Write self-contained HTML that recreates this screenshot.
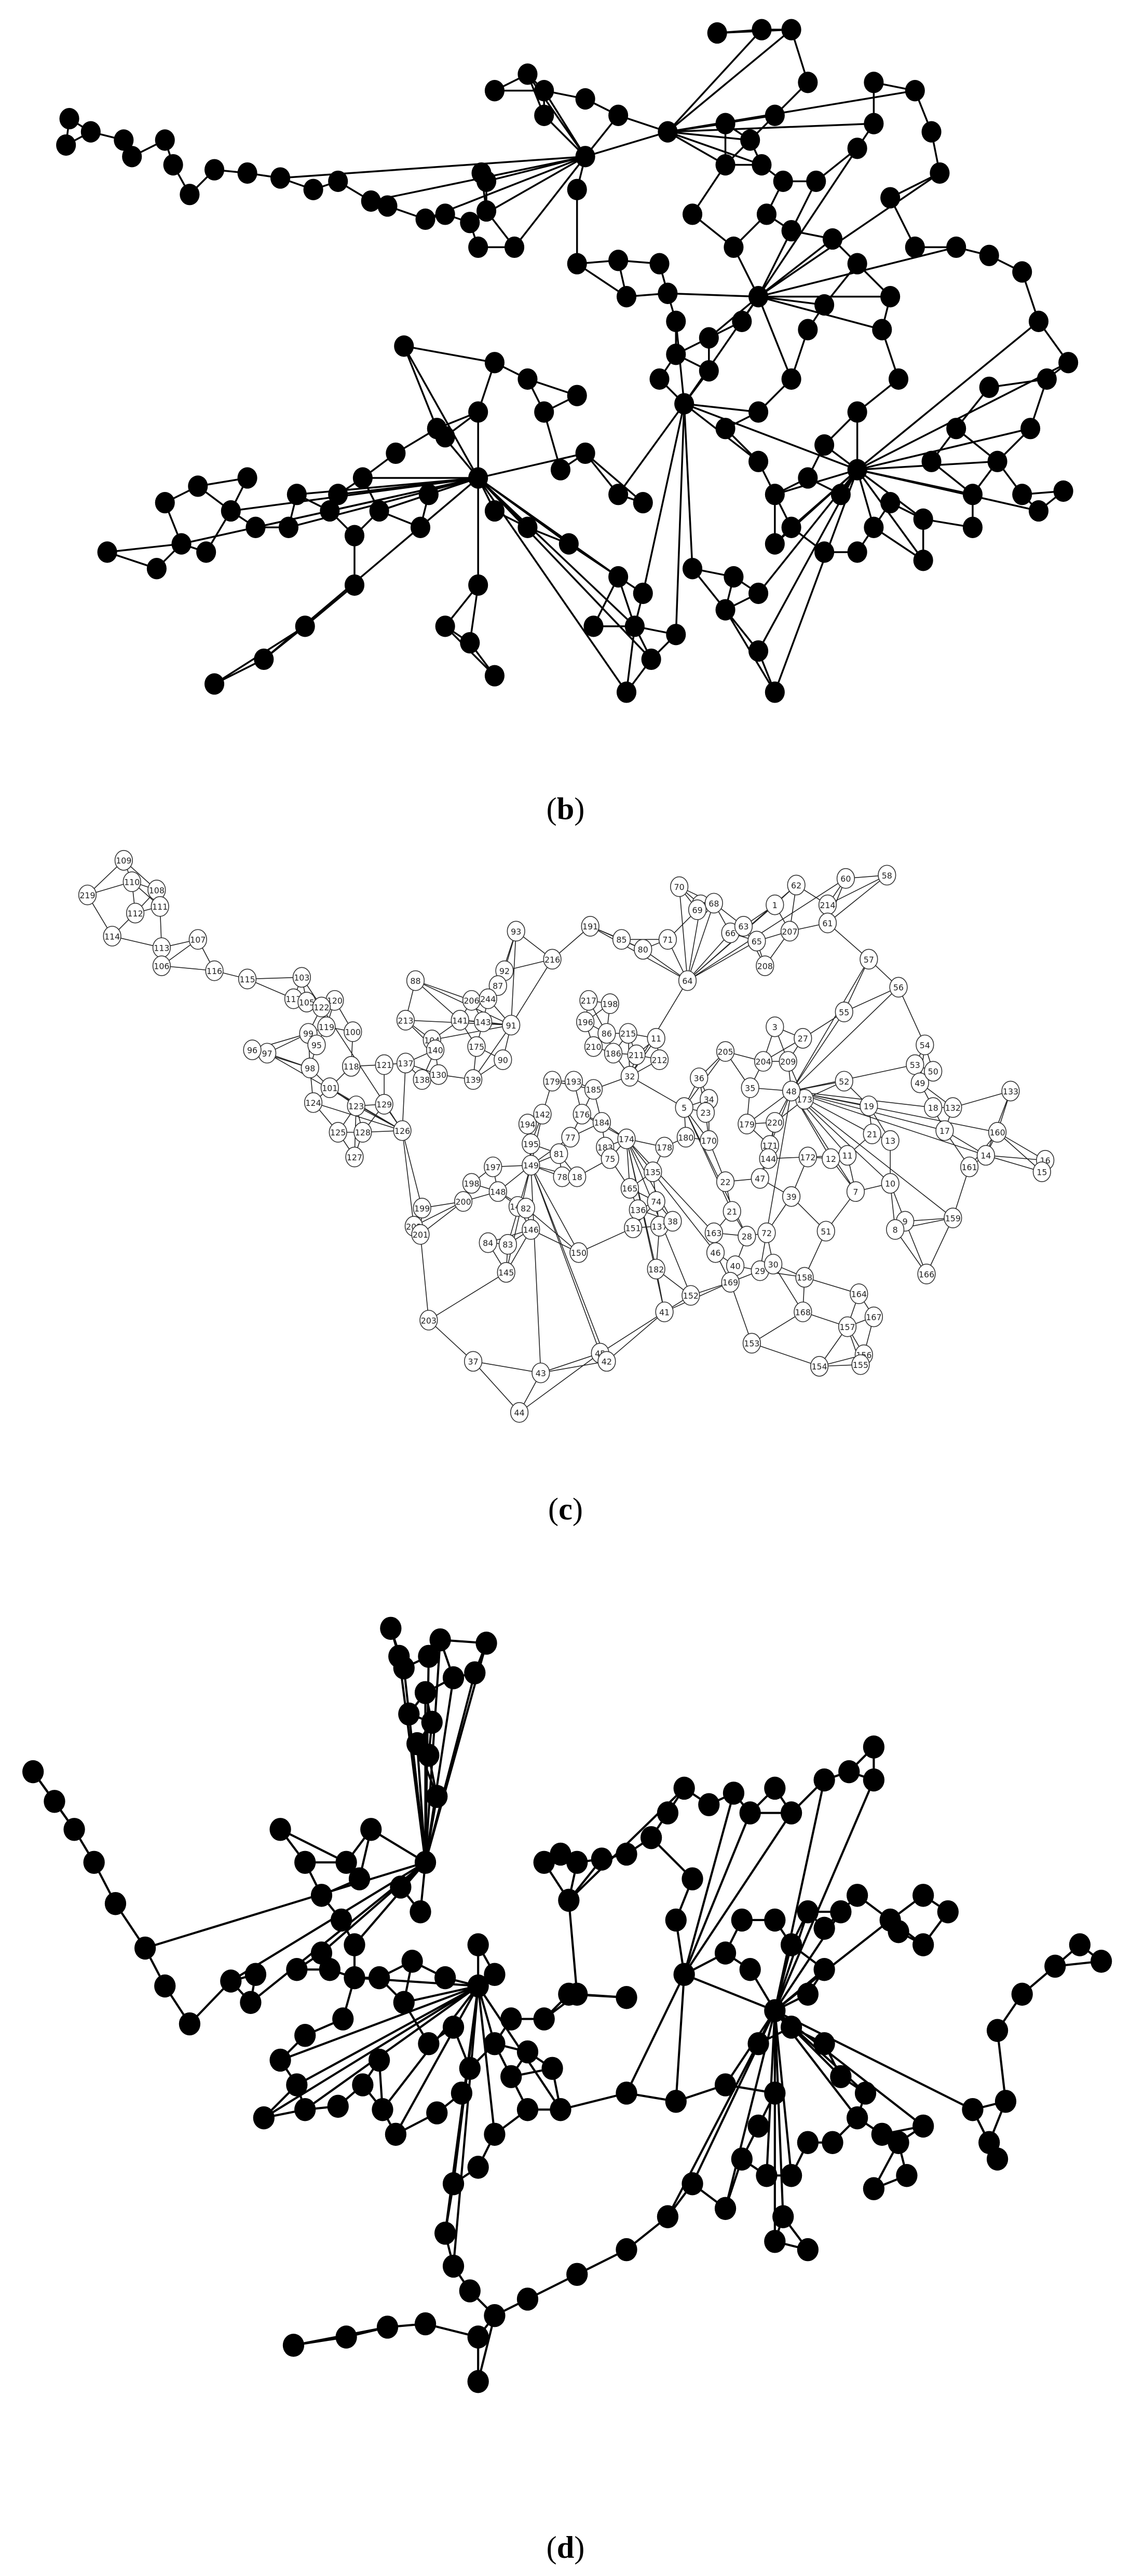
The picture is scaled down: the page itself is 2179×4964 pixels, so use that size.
<!DOCTYPE html>
<html><head><meta charset="utf-8"><style>
html,body{margin:0;padding:0;background:#fff;}
svg{display:block;}
</style></head><body>
<svg id="s" width="2179" height="4964" viewBox="0 0 686 1563" xmlns="http://www.w3.org/2000/svg">
<g id="gb" stroke="#000" stroke-width="1.1"></g>
<g id="gc" stroke="#222" stroke-width="0.5"></g>
<g id="gd" stroke="#000" stroke-width="1.3"></g>
<g id="nodes"></g>
<text x="343" y="497" font-family="Liberation Serif, serif" font-size="19" text-anchor="middle">(<tspan font-weight="bold">b</tspan>)</text>
<text x="343" y="922" font-family="Liberation Serif, serif" font-size="19" text-anchor="middle">(<tspan font-weight="bold">c</tspan>)</text>
<text x="343" y="1552" font-family="Liberation Serif, serif" font-size="19" text-anchor="middle">(<tspan font-weight="bold">d</tspan>)</text>
</svg>
<script>
var NS="http://www.w3.org/2000/svg";
function el(t,a,p){var e=document.createElementNS(NS,t);for(var k in a)e.setAttribute(k,a[k]);p.appendChild(e);return e;}
var seed=7;function rnd(){seed=(seed*9301+49297)%233280;return seed/233280;}
function build(P,hubs,g,k,hp,maxd){
 var E={};
 function add(i,j){if(i==j)return;var key=i<j?i+"_"+j:j+"_"+i;if(E[key])return;E[key]=1;el("line",{x1:P[i][0],y1:P[i][1],x2:P[j][0],y2:P[j][1]},g);}
 for(var i=0;i<P.length;i++){
  var d=[];for(var j=0;j<P.length;j++){if(j!=i)d.push([Math.hypot(P[i][0]-P[j][0],P[i][1]-P[j][1]),j]);}
  d.sort(function(a,b){return a[0]-b[0]});
  for(var m=0;m<k;m++)add(i,d[m][1]);
  if(rnd()<hp){var bh=null,bd=1e9;hubs.forEach(function(h){var dd=Math.hypot(P[i][0]-P[h][0],P[i][1]-P[h][1]);if(dd<bd&&dd>5){bd=dd;bh=h;}});if(bh!==null&&bd<maxd)add(i,bh);}
 }
}
var B=[[42,72],[40,88],[55,80],[75,85],[80,95],[100,85],[105,100],[115,118],[130,103],[150,105],[170,108],[190,115],[205,110],[225,122],[235,125],[258,133],[270,130],[285,135],[295,128],[290,150],[312,150],[295,110],[292,105],[300,55],[320,45],[330,55],[355,60],[355,95],[375,70],[405,80],[435,20],[462,18],[480,18],[490,50],[470,70],[455,85],[440,75],[440,100],[462,100],[475,110],[495,110],[520,90],[530,75],[530,50],[555,55],[565,80],[540,120],[570,105],[555,150],[580,150],[600,155],[620,165],[630,195],[648,220],[635,230],[625,260],[605,280],[590,300],[565,280],[580,260],[545,230],[520,285],[510,300],[540,305],[560,315],[620,300],[645,298],[630,310],[520,250],[500,270],[490,290],[470,300],[460,280],[440,260],[415,245],[400,230],[410,215],[380,180],[350,160],[375,158],[400,160],[405,178],[410,195],[430,205],[450,195],[460,180],[465,130],[480,140],[505,145],[520,160],[540,180],[500,185],[490,200],[480,230],[460,250],[430,225],[350,240],[330,250],[320,230],[300,220],[290,250],[270,265],[240,275],[220,290],[205,300],[180,300],[150,290],[120,295],[100,305],[65,335],[95,345],[125,335],[155,320],[175,320],[200,310],[230,310],[260,300],[290,290],[300,310],[320,320],[340,285],[355,275],[375,300],[390,305],[345,330],[375,350],[390,360],[420,345],[445,350],[470,330],[480,320],[460,360],[440,370],[410,385],[395,400],[380,420],[360,380],[385,380],[290,355],[270,380],[215,355],[185,380],[160,400],[130,415],[285,390],[300,410],[470,420],[460,395],[560,340],[500,335],[530,320],[245,210],[265,260],[330,70],[350,115],[420,130],[445,150],[535,200],[600,235],[255,320],[215,325],[140,310],[110,330],[520,335],[590,320]];
var hb=[];[[415,245],[460,180],[310,150],[355,95],[405,80],[520,285],[290,290]].forEach(function(h){for(var i=0;i<B.length;i++)if(B[i][0]==h[0]&&B[i][1]==h[1])hb.push(i);});
build(B,hb,document.getElementById("gb"),2,0.45,200);
var C=[["109",75,522],["110",80,535],["108",95,540],["111",97,550],["219",53,543],["112",82,554],["107",120,570],["114",68,568],["113",98,575],["106",98,586],["116",130,589],["115",150,594],["103",183,593],["117",178,606],["105",186,608],["120",203,607],["122",195,611],["99",187,627],["119",198,623],["100",214,626],["97",162,639],["96",153,637],["95",192,634],["98",188,648],["118",213,647],["121",233,646],["123",216,671],["101",200,660],["124",190,669],["125",205,687],["128",220,687],["127",215,702],["129",233,670],["126",244,686],["213",246,619],["88",252,595],["92",306,589],["93",313,565],["216",335,582],["87",302,598],["206",286,607],["244",296,606],["141",279,619],["143",293,620],["91",310,622],["104",262,631],["140",264,637],["137",246,645],["138",256,655],["130",266,652],["139",287,655],["175",289,635],["90",305,643],["191",358,562],["85",377,570],["80",390,576],["71",405,570],["70",412,538],["67",425,549],["69",423,552],["68",433,548],["66",443,566],["63",451,562],["1",470,549],["62",483,537],["60",513,533],["58",538,531],["214",502,549],["61",502,560],["207",479,565],["65",459,571],["208",464,586],["64",417,595],["57",527,582],["56",545,599],["55",512,614],["3",470,623],["27",487,630],["209",478,644],["204",463,644],["205",440,638],["36",424,654],["34",430,667],["35",455,660],["23",428,675],["5",415,672],["217",357,607],["198",370,609],["196",355,620],["215",381,627],["86",368,627],["210",360,635],["212",400,643],["11",398,630],["186",372,639],["211",386,640],["32",382,653],["193",348,656],["179",335,656],["185",360,661],["176",353,676],["184",365,681],["77",346,690],["183",367,696],["75",370,703],["174",380,691],["78",341,714],["18",350,714],["194",320,682],["142",329,676],["195",322,694],["81",339,700],["149",322,707],["197",299,708],["148",302,723],["198",286,718],["200",281,729],["199",256,733],["202",251,744],["201",255,749],["147",314,732],["82",319,733],["146",322,746],["84",296,754],["83",308,755],["145",307,772],["150",351,760],["165",382,721],["135",396,711],["178",403,696],["136",387,734],["74",398,729],["151",384,745],["137",400,744],["38",408,741],["22",440,717],["21",444,735],["182",398,770],["163",433,748],["46",434,760],["28",453,750],["72",465,748],["40",446,768],["169",443,778],["29",461,771],["30",469,767],["170",430,692],["180",416,690],["179",453,682],["220",470,681],["171",467,695],["173",488,667],["48",480,662],["52",512,656],["53",555,646],["49",558,657],["54",561,634],["50",566,650],["19",527,671],["18",566,672],["132",578,672],["133",613,662],["17",573,686],["13",540,692],["21",529,688],["11",514,701],["12",504,703],["172",490,702],["144",466,703],["47",461,715],["39",480,726],["7",519,723],["10",540,718],["9",549,741],["8",543,746],["51",501,747],["158",488,775],["164",521,785],["168",487,796],["167",530,799],["157",514,805],["166",562,773],["159",578,739],["161",588,708],["14",598,701],["160",605,687],["16",634,704],["15",632,711],["156",524,822],["155",522,828],["154",497,829],["153",456,815],["152",419,786],["41",403,796],["45",364,821],["42",368,826],["43",328,833],["37",287,826],["203",260,801],["44",315,857]];
var CP=C.map(function(c){return [c[1],c[2]]});
var hc=[];["64","32","5","48","91","149","174","126"].forEach(function(n){for(var i=0;i<C.length;i++)if(C[i][0]==n){hc.push(i);break;}});
build(CP,hc,document.getElementById("gc"),3,0.4,140);
var D=[[237,988],[242,1005],[267,995],[295,997],[245,1012],[260,1005],[275,1018],[288,1015],[258,1027],[248,1040],[262,1045],[253,1058],[20,1075],[33,1093],[45,1110],[57,1130],[70,1155],[88,1182],[100,1205],[115,1228],[140,1202],[155,1198],[152,1215],[170,1110],[185,1130],[195,1150],[210,1130],[225,1110],[218,1140],[207,1165],[195,1185],[180,1195],[200,1195],[215,1200],[230,1200],[245,1215],[208,1225],[185,1235],[170,1250],[180,1265],[160,1285],[185,1280],[205,1278],[220,1265],[232,1280],[240,1295],[265,1282],[280,1270],[285,1255],[300,1240],[310,1225],[290,1205],[275,1230],[260,1240],[255,1160],[258,1130],[243,1145],[250,1190],[270,1200],[290,1180],[300,1198],[310,1260],[320,1245],[330,1225],[345,1153],[330,1130],[350,1130],[365,1128],[380,1125],[395,1115],[405,1100],[415,1085],[420,1140],[410,1165],[430,1095],[445,1088],[455,1100],[470,1085],[480,1100],[500,1080],[515,1075],[530,1060],[530,1080],[415,1198],[380,1212],[350,1210],[335,1255],[320,1280],[300,1295],[290,1315],[275,1325],[270,1355],[275,1375],[285,1390],[290,1418],[290,1445],[340,1280],[380,1270],[410,1275],[440,1265],[460,1240],[470,1220],[455,1195],[440,1185],[450,1165],[470,1165],[480,1180],[490,1160],[500,1170],[510,1160],[520,1150],[540,1165],[560,1180],[545,1172],[575,1160],[560,1150],[500,1195],[490,1210],[480,1230],[500,1240],[510,1260],[525,1270],[520,1285],[535,1295],[545,1300],[505,1300],[470,1270],[460,1290],[450,1310],[465,1320],[480,1320],[490,1300],[475,1345],[490,1365],[470,1360],[440,1340],[420,1325],[405,1345],[380,1365],[350,1380],[320,1395],[300,1405],[258,1410],[235,1412],[210,1418],[178,1423],[560,1290],[590,1280],[610,1275],[605,1232],[620,1210],[640,1193],[655,1180],[668,1190],[600,1300],[550,1320],[530,1328],[605,1310],[230,1250],[215,1180],[260,1065],[345,1210],[265,1090],[340,1125]];
var hd=[];[[345,1153],[415,1198],[290,1205],[258,1130],[470,1220]].forEach(function(h){for(var i=0;i<D.length;i++)if(D[i][0]==h[0]&&D[i][1]==h[1])hd.push(i);});
build(D,hd,document.getElementById("gd"),2,0.4,180);
var N=document.getElementById("nodes");
B.forEach(function(p){el("ellipse",{cx:p[0],cy:p[1],rx:6,ry:6.5,fill:"#000"},N);});
D.forEach(function(p){el("ellipse",{cx:p[0],cy:p[1],rx:6.5,ry:7,fill:"#000"},N);});
C.forEach(function(c){el("ellipse",{cx:c[1],cy:c[2],rx:5.3,ry:6,fill:"#fff",stroke:"#333","stroke-width":0.5},N);
 var t=el("text",{x:c[1],y:c[2]+2,"font-family":"DejaVu Sans, sans-serif","font-size":5,"text-anchor":"middle",fill:"#222"},N);t.textContent=c[0];});
</script>
</body></html>
